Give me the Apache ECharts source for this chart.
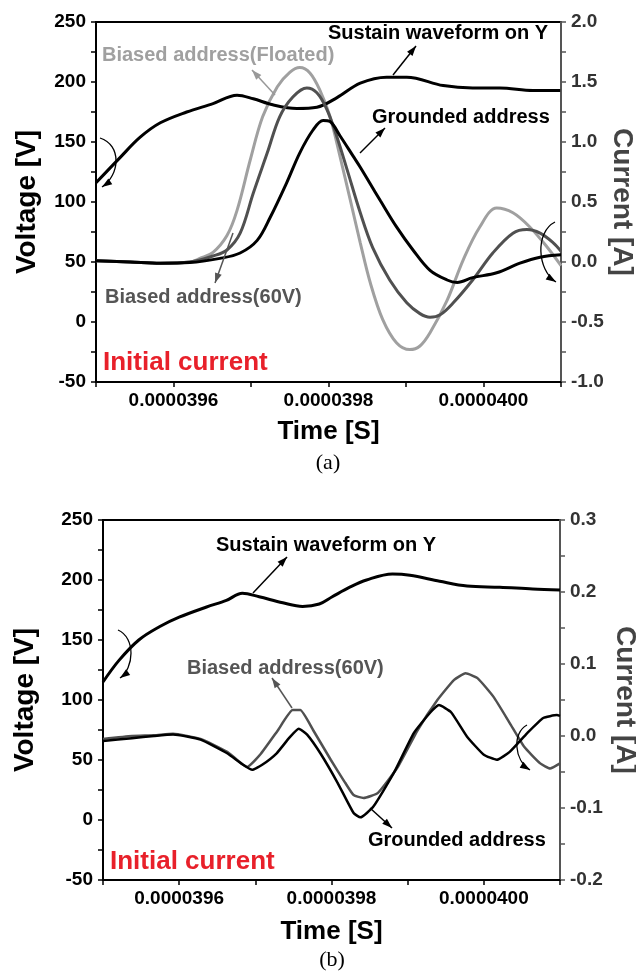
<!DOCTYPE html>
<html><head><meta charset="utf-8">
<script src="https://cdn.jsdelivr.net/npm/echarts/dist/echarts.min.js"></script>
<style>html,body{margin:0;padding:0;background:#fff}#c{width:636px;height:977px}</style>
</head><body><div id="c"></div>
<script>
// ---------- Panel (a) data ----------
const aSustainT = [0.0000395, 0.000039531, 0.000039557, 0.000039583, 0.000039617, 0.000039651, 0.000039682, 0.000039703, 0.000039728, 0.000039759, 0.000039785, 0.000039811, 0.000039841, 0.000039875, 0.000039901, 0.000039948, 0.000039986, 0.000040021, 0.000040064, 0.000040099];
const aSustainV = [116, 137, 154, 166, 175, 182, 189, 186, 181, 178, 179, 187, 199, 204, 204, 197, 195, 195, 193, 193];

const aGroundT = [0.0000395, 0.000039544, 0.000039583, 0.000039621, 0.00003966, 0.000039686, 0.000039708, 0.000039725, 0.000039746, 0.000039763, 0.00003978, 0.000039793, 0.000039802, 0.000039815, 0.000039832, 0.000039841, 0.000039854, 0.000039867, 0.000039888, 0.000039909, 0.000039931, 0.000039953, 0.000039966, 0.000039986, 0.000040017, 0.000040047, 0.000040073, 0.0000401];
const aGroundA = [0.01, 0.00, -0.01, -0.005, 0.03, 0.075, 0.18, 0.375, 0.66, 0.91, 1.10, 1.18, 1.17, 1.05, 0.88, 0.79, 0.65, 0.51, 0.29, 0.10, -0.07, -0.15, -0.17, -0.13, -0.09, -0.01, 0.04, 0.06];

const a60T = [0.0000395, 0.000039544, 0.000039583, 0.000039621, 0.000039651, 0.000039669, 0.000039686, 0.000039703, 0.000039721, 0.000039737, 0.000039754, 0.000039772, 0.000039785, 0.000039798, 0.000039811, 0.000039824, 0.000039841, 0.000039857, 0.000039879, 0.000039901, 0.000039918, 0.000039931, 0.000039944, 0.000039961, 0.000039986, 0.000040012, 0.000040038, 0.000040056, 0.000040073, 0.00004009, 0.0000401];
const a60A = [0.01, 0.00, -0.01, 0.00, 0.05, 0.10, 0.24, 0.575, 0.91, 1.21, 1.375, 1.45, 1.41, 1.27, 1.04, 0.77, 0.41, 0.12, -0.15, -0.34, -0.43, -0.46, -0.44, -0.34, -0.15, 0.075, 0.24, 0.27, 0.24, 0.16, 0.09];

const aFloatT = [0.0000395, 0.000039544, 0.000039583, 0.000039621, 0.000039634, 0.000039651, 0.000039669, 0.000039682, 0.000039699, 0.000039715, 0.000039734, 0.00003975, 0.000039763, 0.000039776, 0.000039789, 0.000039802, 0.000039815, 0.000039828, 0.000039841, 0.000039854, 0.00003987, 0.000039888, 0.000039905, 0.000039918, 0.000039931, 0.000039953, 0.000039974, 0.000039995, 0.000040017, 0.000040038, 0.00004006, 0.000040082, 0.0000401];
const aFloatA = [0.01, 0.00, -0.01, 0.00, 0.03, 0.08, 0.22, 0.43, 0.85, 1.21, 1.46, 1.58, 1.62, 1.575, 1.43, 1.21, 0.875, 0.52, 0.16, -0.175, -0.48, -0.675, -0.73, -0.70, -0.59, -0.32, 0.02, 0.29, 0.45, 0.41, 0.29, 0.125, -0.03];

// ---------- Panel (b) data ----------
const bSustainT = [0.0000395, 0.000039521, 0.000039547, 0.000039574, 0.0000396, 0.000039636, 0.000039662, 0.000039683, 0.000039705, 0.000039736, 0.000039762, 0.000039784, 0.000039801, 0.000039824, 0.000039846, 0.00003988, 0.000039903, 0.000039942, 0.000039978, 0.000040021, 0.000040064, 0.0000401];
const bSustainV = [115, 133, 150, 161, 169, 177.5, 183, 189, 186, 181, 178, 180, 186, 194, 200, 205, 204, 199, 195, 194, 192.5, 191.7];

const bGroundT = [0.0000395, 0.000039538, 0.000039567, 0.000039592, 0.000039628, 0.000039663, 0.000039684, 0.000039696, 0.000039709, 0.000039728, 0.000039745, 0.000039757, 0.000039768, 0.000039786, 0.000039808, 0.000039829, 0.000039838, 0.000039855, 0.000039882, 0.000039908, 0.00003993, 0.000039941, 0.000039957, 0.000039978, 0.00004, 0.000040017, 0.000040034, 0.000040057, 0.000040078, 0.000040096, 0.0000401];
const bGroundA = [-0.007, -0.003, 0.000, 0.002, -0.005, -0.024, -0.040, -0.047, -0.040, -0.024, -0.002, 0.010, 0.002, -0.025, -0.065, -0.107, -0.113, -0.098, -0.051, 0.004, 0.033, 0.043, 0.033, -0.001, -0.026, -0.033, -0.022, 0.004, 0.025, 0.029, 0.028];

const b60T = [0.0000395, 0.000039538, 0.000039567, 0.000039592, 0.000039628, 0.000039663, 0.000039684, 0.000039689, 0.000039707, 0.000039729, 0.000039749, 0.000039759, 0.000039776, 0.000039799, 0.000039818, 0.000039829, 0.000039842, 0.000039861, 0.000039887, 0.000039913, 0.000039939, 0.000039961, 0.000039976, 0.000039992, 0.000040013, 0.000040034, 0.000040053, 0.000040074, 0.000040087, 0.0000401];
const b60A = [-0.004, 0.000, 0.001, 0.003, -0.004, -0.022, -0.040, -0.043, -0.025, 0.007, 0.036, 0.036, 0.008, -0.033, -0.065, -0.082, -0.086, -0.079, -0.043, 0.008, 0.050, 0.078, 0.087, 0.080, 0.054, 0.018, -0.015, -0.038, -0.045, -0.038];

// ---------- Axis ticks ----------
const timeMin = 0.0000395, timeMax = 0.0000401, timeStep = 0.0000001;
const voltMin = -50, voltMax = 250, voltStep = 25;
const curAMin = -1, curAMax = 2, curAStep = 0.25;
const curBMin = -0.2, curBMax = 0.3, curBStep = 0.05;

const FONT = '"Liberation Sans", Arial, sans-serif';
const zip = (t, v) => t.map((x, i) => [x, v[i]]);

function xAxis(gi, gap) {
  return {
    type: 'value', gridIndex: gi, min: timeMin, max: timeMax, interval: timeStep,
    name: 'Time [S]', nameLocation: 'middle', nameGap: gap,
    nameTextStyle: { fontSize: 26, fontWeight: 'bold', color: '#000', fontFamily: FONT },
    axisLine: { onZero: false, lineStyle: { color: '#000', width: 2 } },
    axisTick: { show: true, length: 5, lineStyle: { color: '#000', width: 1.5 } },
    axisLabel: { fontSize: 19, fontWeight: 'bold', color: '#000', fontFamily: FONT, margin: 9,
      formatter: v => { const n = Math.round(v * 1e7); return n % 2 === 0 ? (n * 1e-7).toFixed(7) : ''; } },
    splitLine: { show: false }
  };
}
function yVolt(gi, gap) {
  return {
    type: 'value', gridIndex: gi, position: 'left', min: voltMin, max: voltMax, interval: voltStep,
    name: 'Voltage [V]', nameLocation: 'middle', nameGap: gap, nameRotate: 90,
    nameTextStyle: { fontSize: 28, fontWeight: 'bold', color: '#000', fontFamily: FONT },
    axisLine: { show: true, onZero: false, lineStyle: { color: '#000', width: 2 } },
    axisTick: { show: true, length: 5, lineStyle: { color: '#000', width: 1.5 } },
    axisLabel: { fontSize: 19, fontWeight: 'bold', color: '#000', fontFamily: FONT, margin: 10,
      formatter: v => (Math.round(v) % 50 === 0 ? String(Math.round(v)) : '') },
    splitLine: { show: false }
  };
}
function yCur(gi, mn, mx, st, labStep, gap) {
  return {
    type: 'value', gridIndex: gi, position: 'right', min: mn, max: mx, interval: st,
    name: 'Current [A]', nameLocation: 'middle', nameGap: gap, nameRotate: -90, nameMoveOverlap: false,
    nameTextStyle: { fontSize: 28, fontWeight: 'bold', color: '#444', fontFamily: FONT },
    axisLine: { show: true, onZero: false, lineStyle: { color: '#555', width: 2 } },
    axisTick: { show: true, length: 5, lineStyle: { color: '#555', width: 1.5 } },
    axisLabel: { fontSize: 19, fontWeight: 'bold', color: '#333', fontFamily: FONT, margin: 10,
      formatter: v => { const n = Math.round(v * 100); return n % labStep === 0 ? (n === 0 ? '0.0' : (n / 100).toFixed(1)) : ''; } },
    splitLine: { show: false }
  };
}
function line(xi, yi, data, color, width, smooth, z) {
  return { type: 'line', xAxisIndex: xi, yAxisIndex: yi, data, showSymbol: false, symbol: 'none',
    smooth, z: z || 2, lineStyle: { color, width }, animation: false };
}

// ---------- annotation helpers ----------
function head(tx, ty, fx, fy, color) {
  const dx = tx - fx, dy = ty - fy, L = Math.hypot(dx, dy) || 1;
  const ux = dx / L, uy = dy / L, len = 10, w = 3.5;
  const bx = tx - ux * len, by = ty - uy * len;
  return { type: 'polygon', z: 100, shape: { points: [[tx, ty], [bx - uy * w, by + ux * w], [bx + uy * w, by - ux * w]] },
    style: { fill: color } };
}
function arrow(x1, y1, x2, y2, color) {
  return [{ type: 'line', z: 100, shape: { x1, y1, x2, y2 }, style: { stroke: color, lineWidth: 1.5 } },
    head(x2, y2, x1, y1, color)];
}
function curved(s, c1, c2, e, color) {
  return [{ type: 'bezierCurve', z: 100, shape: { x1: s[0], y1: s[1], cpx1: c1[0], cpy1: c1[1], cpx2: c2[0], cpy2: c2[1], x2: e[0], y2: e[1] },
    style: { stroke: color, lineWidth: 1.3, fill: null } }, head(e[0], e[1], c2[0], c2[1], color)];
}
function label(text, x, y, color, size, family, align) {
  return { type: 'text', z: 100, x, y, style: { text, fill: color, font: 'bold ' + size + 'px ' + (family || FONT),
    textAlign: align || 'left', textVerticalAlign: 'middle' } };
}

const graphics = [].concat(
  label('Sustain waveform on Y', 328, 33, '#000', 20),
  label('Biased address(Floated)', 102, 55, '#a0a0a0', 20),
  label('Grounded address', 372, 117, '#000', 20),
  label('Biased address(60V)', 105, 297, '#555', 20),
  label('Initial current', 103, 363, '#e8202a', 26),
  arrow(393, 75, 416, 46, '#000'),
  arrow(360, 153, 385, 128, '#000'),
  arrow(275, 95, 252, 70, '#999'),
  arrow(233, 233, 215, 283, '#555'),
  curved([100, 138], [122, 145], [120, 175], [102, 187], '#000'),
  curved([555, 222], [535, 232], [537, 270], [556, 282], '#000'),
  { type: 'text', z: 100, x: 328, y: 463, style: { text: '(a)', fill: '#000', font: '22px "Liberation Serif", "DejaVu Serif", serif', textAlign: 'center', textVerticalAlign: 'middle' } },

  label('Sustain waveform on Y', 216, 545, '#000', 20),
  label('Biased address(60V)', 187, 668, '#555', 20),
  label('Grounded address', 368, 840, '#000', 20),
  label('Initial current', 110, 862, '#e8202a', 26),
  arrow(253, 593, 287, 557, '#000'),
  arrow(292, 708, 272, 678, '#555'),
  arrow(370, 808, 392, 828, '#000'),
  curved([118, 630], [136, 638], [134, 668], [120, 678], '#000'),
  curved([527, 725], [512, 733], [514, 760], [530, 770], '#000'),
  { type: 'text', z: 100, x: 332, y: 960, style: { text: '(b)', fill: '#000', font: '22px "Liberation Serif", "DejaVu Serif", serif', textAlign: 'center', textVerticalAlign: 'middle' } }
);

const chart = echarts.init(document.getElementById('c'), null, { renderer: 'canvas' });
chart.setOption({
  backgroundColor: '#fff',
  animation: false,
  grid: [
    { left: 96, top: 22, width: 465, height: 360, show: true, borderColor: '#000', borderWidth: 2, backgroundColor: 'transparent', containLabel: false, outerBoundsMode: 'none' },
    { left: 103, top: 520, width: 457, height: 360, show: true, borderColor: '#000', borderWidth: 2, backgroundColor: 'transparent', containLabel: false, outerBoundsMode: 'none' }
  ],
  xAxis: [xAxis(0, 37), xAxis(1, 39)],
  yAxis: [yVolt(0, 55), yCur(0, curAMin, curAMax, curAStep, 50, 47), yVolt(1, 64), yCur(1, curBMin, curBMax, curBStep, 10, 51)],
  series: [
    line(0, 0, zip(aSustainT, aSustainV), '#000', 3, 0.35, 3),
    line(0, 1, zip(aFloatT, aFloatA), '#a0a0a0', 3, 0.35, 2),
    line(0, 1, zip(a60T, a60A), '#505050', 3, 0.35, 3),
    line(0, 1, zip(aGroundT, aGroundA), '#000', 3, 0.35, 4),
    line(1, 2, zip(bSustainT, bSustainV), '#000', 3, 0.35, 3),
    line(1, 3, zip(b60T, b60A), '#505050', 2.5, 0.15, 2),
    line(1, 3, zip(bGroundT, bGroundA), '#000', 2.5, 0.15, 3)
  ],
  graphic: graphics
});
</script></body></html>
